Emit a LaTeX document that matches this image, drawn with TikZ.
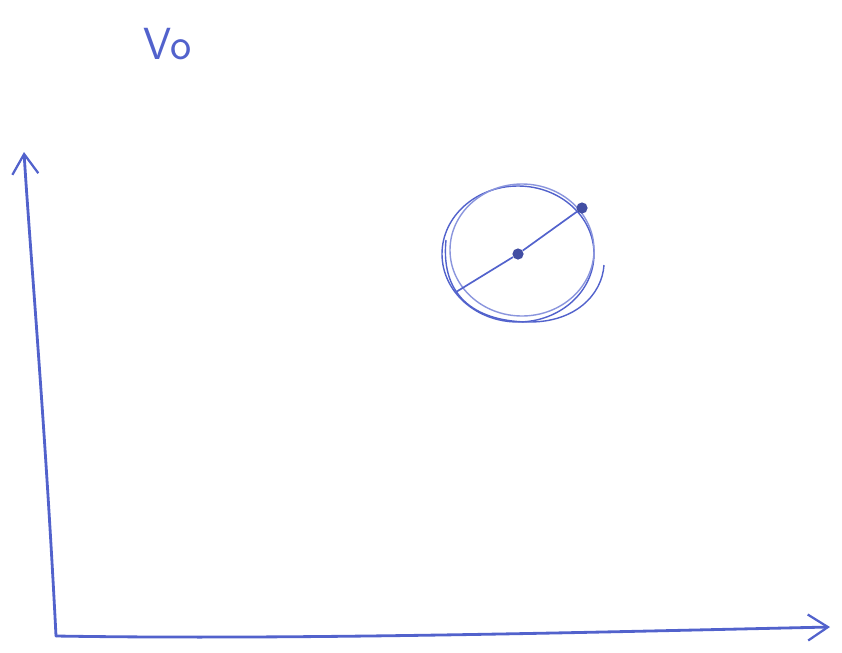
\documentclass[tikz,border=0pt]{standalone}
\usepackage{tikz}
\usetikzlibrary{arrows.meta}
\usepackage{xcolor}
\definecolor{Pen}{HTML}{5262CC}
\definecolor{PenLight}{HTML}{8A95DD}

\begin{document}
\begin{tikzpicture}[x=0.025cm,y=-0.025cm,
    axis/.style={draw=Pen,line width=2pt,line cap=round,
      -{Straight Barb[length=5mm,width=6.5mm,line width=1.6pt]}},
    ring/.style={draw=Pen,line width=1pt},
    dot/.style={circle,fill=Pen!80!black,inner sep=0pt,minimum size=2.8mm}]
  \useasboundingbox (0,0) rectangle (842,652);
  % axes
  \coordinate (origin) at (56,636);
  \coordinate (ytop) at (24,152);
  \coordinate (xend) at (830,627);
  \draw[axis] (origin) .. controls (45,420) and (30,250) .. (ytop);
  \draw[axis] (origin) .. controls (300,640) and (600,632) .. (xend);
  % label
  \node[text=Pen,font=\sffamily\fontsize{32}{38}\selectfont,inner sep=0pt]
    (vlabel) at (168,44) {Vo};
  % circle
  \coordinate (centre) at (518,254);
  \draw[ring] (centre) ellipse [x radius=76,y radius=68];
  \draw[ring,draw=PenLight] (522,250) ellipse [x radius=72,y radius=66];
  \draw[ring] (446,240) .. controls (440,300) and (480,322) .. (530,322)
    .. controls (575,322) and (602,295) .. (604,265);
  \node[dot] (mid) at (centre) {};
  \node[dot] (rim) at (582,208) {};
  \coordinate (rimlow) at (456,292);
  \draw[ring,line width=1.2pt] (rimlow) -- (mid) -- (rim);
\end{tikzpicture}
\end{document}
